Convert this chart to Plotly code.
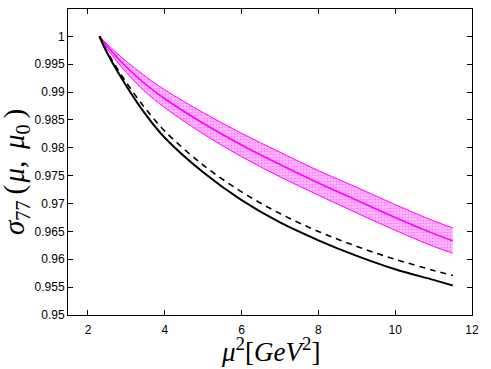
import plotly.graph_objects as go

# mu^2 grid (GeV^2)
mu2 = [2.3, 2.5, 3.0, 3.5, 4.0, 5.0, 6.0, 7.0, 8.0, 9.0, 10.0, 11.0, 11.5]

sigma_solid = [1.0, 0.9970, 0.9911, 0.9860, 0.9818, 0.9756, 0.9706, 0.9666, 0.9634, 0.9606, 0.9582, 0.9563, 0.9553]
sigma_dashed = [1.0, 0.9972, 0.9917, 0.9870, 0.9830, 0.9769, 0.9721, 0.9682, 0.9650, 0.9623, 0.9600, 0.9580, 0.9571]
sigma_band_mid = [1.0, 0.9982, 0.9945, 0.9914, 0.9888, 0.9844, 0.9805, 0.9770, 0.9737, 0.9706, 0.9675, 0.9646, 0.9633]
sigma_band_hi = [1.0, 0.9986, 0.9955, 0.9928, 0.9904, 0.9863, 0.9826, 0.9792, 0.9759, 0.9729, 0.9698, 0.9669, 0.9656]
sigma_band_lo = [1.0, 0.9978, 0.9935, 0.9900, 0.9872, 0.9825, 0.9784, 0.9748, 0.9715, 0.9683, 0.9652, 0.9623, 0.9611]

x_ticks = [2, 4, 6, 8, 10, 12]
y_ticks = [0.95, 0.955, 0.96, 0.965, 0.97, 0.975, 0.98, 0.985, 0.99, 0.995, 1.0]
y_tick_text = ["0.95", "0.955", "0.96", "0.965", "0.97", "0.975", "0.98", "0.985", "0.99", "0.995", "1"]

fig = go.Figure()

# uncertainty band
fig.add_trace(go.Scatter(x=mu2, y=sigma_band_lo, mode="lines",
                         line=dict(color="#ff00ff", width=1, shape="spline"), showlegend=False))
fig.add_trace(go.Scatter(x=mu2, y=sigma_band_hi, mode="lines", fill="tonexty",
                         fillcolor="rgba(255,150,255,0.55)",
                         fillpattern=dict(shape=".", fgcolor="#ff33ff", bgcolor="rgba(255,190,255,1)",
                                          size=3, solidity=0.35),
                         line=dict(color="#ff00ff", width=1, shape="spline"), showlegend=False))
fig.add_trace(go.Scatter(x=mu2, y=sigma_band_mid, mode="lines",
                         line=dict(color="#ff00ff", width=1.6, shape="spline"), showlegend=False))

fig.add_trace(go.Scatter(x=mu2, y=sigma_dashed, mode="lines",
                         line=dict(color="black", width=1.6, dash="6px,5px", shape="spline"),
                         showlegend=False))
fig.add_trace(go.Scatter(x=mu2, y=sigma_solid, mode="lines",
                         line=dict(color="black", width=2, shape="spline"), showlegend=False))

axis_common = dict(showgrid=False, zeroline=False, showline=True, linecolor="black", linewidth=1,
                   mirror="ticks", ticks="inside", ticklen=5, tickcolor="black", automargin=False,
                   tickfont=dict(family="Liberation Sans, Arial", size=12, color="black"))

fig.update_xaxes(range=[1.48, 12], tickvals=x_ticks, ticklabelstandoff=4, **axis_common)
fig.update_yaxes(range=[0.95, 1.0049], tickvals=y_ticks, ticktext=y_tick_text, **axis_common)

title_font = dict(family="Liberation Serif, Times New Roman", color="black")
fig.add_annotation(text="<i>μ</i><sup>2</sup>[<i>GeV</i><sup>2</sup>]", xref="paper", yref="paper",
                   x=0.5, y=-0.115, xanchor="center", yanchor="middle", showarrow=False,
                   font=dict(size=27, **title_font))
fig.add_annotation(text="<i>σ</i><sub>77</sub>\u2009(\u200a<i>μ</i>,\u2009\u2009<i>μ</i><sub>0</sub>\u2009)",
                   xref="paper", yref="paper",
                   x=-0.129, y=0.467, xanchor="center", yanchor="middle", textangle=-90, showarrow=False,
                   font=dict(size=29, **title_font))

fig.update_layout(width=491, height=369, margin=dict(l=68, r=19, t=9, b=54),
                  plot_bgcolor="white", paper_bgcolor="white")

# drop the default 8px page margin so the figure fills the window
fig.write_html("out.html", config={"displayModeBar": False},
               post_script="document.body.style.margin='0';")
